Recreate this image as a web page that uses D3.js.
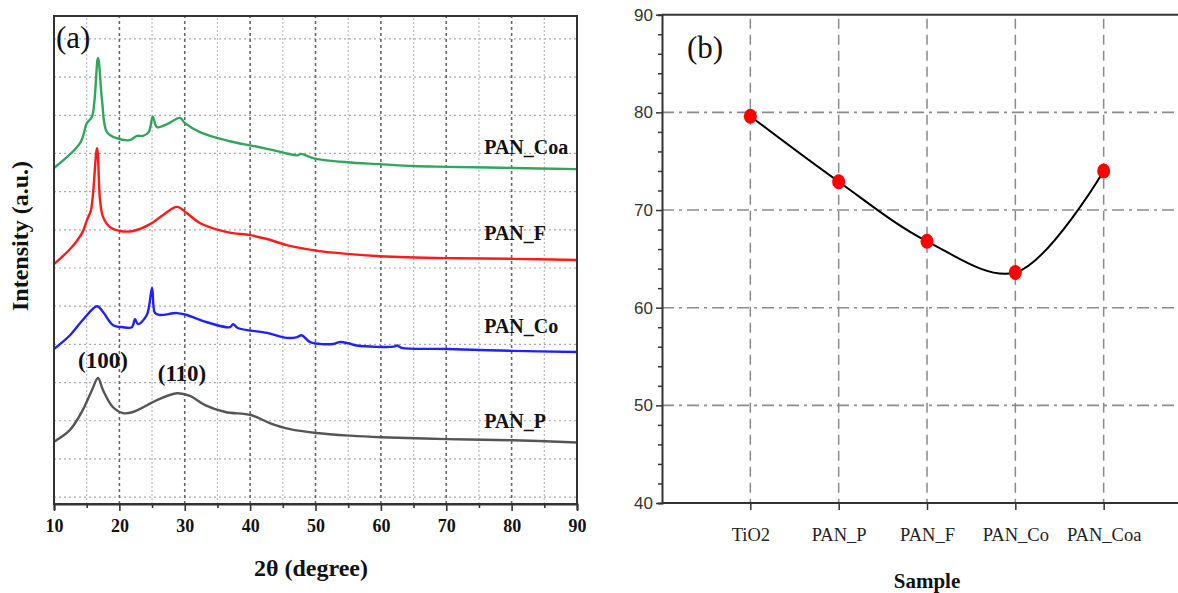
<!DOCTYPE html>
<html>
<head>
<meta charset="utf-8">
<script src="https://cdn.jsdelivr.net/npm/d3@7"></script>
<style>
  body { margin: 0; background: #fff; }
  svg { display: block; }
</style>
</head>
<body>
<div id="chart"></div>
<script>
// ---- panel (a): XRD patterns, [2theta, intensity (grid units)] ----
const panCoa = [[10,8.62],[13.98,9.27],[15.05,9.80],[15.81,9.96],[16.73,11.50],[17.34,10.40],[18.1,9.56],[19.6,9.40],[21.6,9.35],[22.7,9.46],[23.6,9.46],[24.5,9.56],[25.1,9.96],[25.75,9.69],[27.3,9.77],[29.3,9.93],[30.0,9.80],[32.3,9.56],[37.4,9.30],[40.4,9.20],[42.6,9.12],[45.6,9.00],[47.2,8.95],[47.8,8.99],[49.6,8.88],[54.8,8.77],[59.9,8.72],[64.9,8.67],[70.1,8.65],[80.2,8.62],[90,8.59]];
const panF = [[10,6.10],[12.75,6.55],[14.3,6.92],[15.05,7.26],[15.66,7.52],[16.58,9.14],[17.04,7.78],[17.5,7.34],[18.57,7.07],[20.1,6.97],[22.1,6.97],[24.7,7.15],[26.7,7.39],[28.8,7.60],[30.3,7.44],[32.3,7.18],[36.5,6.94],[40.0,6.86],[42.6,6.76],[45.6,6.60],[49.6,6.47],[54.8,6.37],[59.9,6.31],[70.1,6.26],[80.2,6.24],[90,6.21]];
const panCo = [[10,3.88],[12.45,4.24],[14.4,4.64],[16.58,5.00],[17.5,4.85],[19.0,4.51],[20.55,4.45],[21.9,4.45],[22.4,4.66],[22.85,4.53],[24.2,4.77],[25.0,5.48],[25.45,4.82],[26.2,4.77],[28.8,4.82],[30.3,4.77],[33.4,4.58],[36.9,4.45],[37.4,4.53],[38.1,4.43],[42.6,4.30],[45.6,4.17],[47.2,4.19],[47.9,4.24],[49.2,4.06],[52.7,4.01],[53.7,4.06],[55.0,4.03],[56.3,3.97],[62.0,3.94],[62.5,3.97],[63.2,3.91],[70.1,3.88],[80.2,3.83],[90,3.80]];
const panP = [[10,1.45],[12.45,1.76],[14.4,2.28],[15.8,2.80],[16.73,3.12],[17.5,2.80],[19.0,2.36],[20.55,2.20],[22.1,2.23],[25.75,2.54],[28.8,2.72],[30.8,2.65],[33.1,2.41],[36.2,2.23],[40.1,2.15],[43.0,1.94],[46.1,1.78],[50.1,1.68],[55.3,1.61],[60.0,1.57],[70.1,1.52],[80.2,1.49],[90,1.43]];
const seriesNames = ["PAN_Coa", "PAN_F", "PAN_Co", "PAN_P"];
const seriesColors = ["#2fa65c", "#ff1a1a", "#1f1fff", "#555555"];
const xTicksA = [10, 20, 30, 40, 50, 60, 70, 80, 90];

// ---- panel (b) ----
const samples = ["TiO2", "PAN_P", "PAN_F", "PAN_Co", "PAN_Coa"];
const sampleValues = [79.6, 72.9, 66.8, 63.6, 74.0];
const yTicksB = [40, 50, 60, 70, 80, 90];

const W = 1178, H = 593;
const svg = d3.select("#chart").append("svg")
    .attr("width", W).attr("height", H);

const serif = "'Liberation Serif', 'Times New Roman', serif";

// ===================== panel (a) =====================
const xA = d3.scaleLinear().domain([10, 90]).range([54, 577]);
const yA = d3.scaleLinear().domain([-0.18, 12.6]).range([504, 16]);

const gA = svg.append("g");

// grid
gA.append("g").selectAll("line")
  .data(d3.range(0, 13))
  .join("line")
    .attr("x1", xA(10)).attr("x2", xA(90))
    .attr("y1", d => yA(d)).attr("y2", d => yA(d))
    .attr("stroke", "#aaa").attr("stroke-width", 1.2)
    .attr("stroke-dasharray", "2,3");
gA.append("g").selectAll("line")
  .data(d3.range(15, 90, 5))
  .join("line")
    .attr("x1", d => xA(d)).attr("x2", d => xA(d))
    .attr("y1", yA.range()[0]).attr("y2", yA.range()[1])
    .attr("stroke", d => d % 10 === 0 ? "#666" : "#bbb")
    .attr("stroke-width", d => d % 10 === 0 ? 1.6 : 1.2)
    .attr("stroke-dasharray", d => d % 10 === 0 ? "3,3" : "2,2");

// curves
const lineA = d3.line()
    .x(d => xA(d[0])).y(d => yA(d[1]))
    .curve(d3.curveCatmullRom.alpha(0.5));
[panCoa, panF, panCo, panP].forEach((s, i) => {
  gA.append("path")
    .datum(s)
    .attr("d", lineA)
    .attr("fill", "none")
    .attr("stroke", seriesColors[i])
    .attr("stroke-width", 2.4)
    .attr("stroke-linejoin", "round");
});

// frame
gA.append("rect")
  .attr("x", xA(10)).attr("y", yA.range()[1])
  .attr("width", xA(90) - xA(10)).attr("height", yA.range()[0] - yA.range()[1])
  .attr("fill", "none").attr("stroke", "#333").attr("stroke-width", 2);

// x axis
const axA = gA.append("g")
  .attr("transform", `translate(0,${yA.range()[0]})`)
  .call(d3.axisBottom(xA).tickValues(d3.range(10, 91, 5)).tickSize(6)
        .tickFormat(d => xTicksA.includes(d) ? d : ""));
axA.select(".domain").attr("stroke", "#333").attr("stroke-width", 2);
axA.selectAll(".tick line").attr("stroke", "#333").attr("stroke-width", 1.6)
  .attr("y2", d => d % 10 === 0 ? 7 : 4);
axA.selectAll("text")
  .attr("font-family", serif).attr("font-weight", "bold")
  .attr("font-size", 18).attr("fill", "#111").attr("dy", "1.05em");

// labels
gA.append("text").attr("x", 311).attr("y", 576)
  .attr("text-anchor", "middle").attr("font-family", serif)
  .attr("font-weight", "bold").attr("font-size", 24).attr("fill", "#111")
  .text("2θ (degree)");
gA.append("text")
  .attr("transform", "translate(28,236) rotate(-90)")
  .attr("text-anchor", "middle").attr("font-family", serif)
  .attr("font-weight", "bold").attr("font-size", 24).attr("fill", "#111")
  .text("Intensity (a.u.)");
gA.append("text").attr("x", 56).attr("y", 48)
  .attr("font-family", serif).attr("font-size", 31).attr("fill", "#111")
  .text("(a)");

const labelY = [8.99, 6.73, 4.30, 1.81];
seriesNames.forEach((n, i) => {
  gA.append("text").attr("x", xA(75.8)).attr("y", yA(labelY[i]))
    .attr("font-family", serif).attr("font-weight", "bold")
    .attr("font-size", 20).attr("fill", "#111").text(n);
});
gA.append("text").attr("x", 103).attr("y", 368)
  .attr("text-anchor", "middle").attr("font-family", serif)
  .attr("font-weight", "bold").attr("font-size", 23).attr("fill", "#111").text("(100)");
gA.append("text").attr("x", 182).attr("y", 381)
  .attr("text-anchor", "middle").attr("font-family", serif)
  .attr("font-weight", "bold").attr("font-size", 23).attr("fill", "#111").text("(110)");

// ===================== panel (b) =====================
const xB = d3.scaleLinear().domain([0, 6]).range([662, 1192]);
const yB = d3.scaleLinear().domain([40, 90]).range([503, 14.7]);
const gB = svg.append("g");

// grid
gB.append("g").selectAll("line")
  .data([50, 60, 70, 80])
  .join("line")
    .attr("x1", xB(0)).attr("x2", W)
    .attr("y1", d => yB(d)).attr("y2", d => yB(d))
    .attr("stroke", "#8a8a8a").attr("stroke-width", 1.6)
    .attr("stroke-dasharray", "12,5,3,5");
gB.append("g").selectAll("line")
  .data(samples)
  .join("line")
    .attr("x1", (d, i) => xB(i + 1)).attr("x2", (d, i) => xB(i + 1))
    .attr("y1", yB(90) + 4).attr("y2", yB(40))
    .attr("stroke", "#8a8a8a").attr("stroke-width", 1.5)
    .attr("stroke-dasharray", "10,6");

// axes
const ayB = gB.append("g")
  .attr("transform", `translate(${xB(0)},0)`)
  .call(d3.axisLeft(yB).tickValues(d3.range(40, 91, 2)).tickSize(4)
        .tickFormat(d => yTicksB.includes(d) ? d : ""));
ayB.select(".domain").attr("stroke", "#333").attr("stroke-width", 2);
ayB.selectAll(".tick line").attr("stroke", "#333").attr("stroke-width", 1.5)
  .attr("x2", d => yTicksB.includes(d) ? -6 : -4);
ayB.selectAll("text")
  .attr("font-family", "'Liberation Sans Narrow', 'Liberation Sans', Arial, sans-serif")
  .attr("font-size", 17).attr("fill", "#333").attr("x", -9);

const axB = gB.append("g")
  .attr("transform", `translate(0,${yB(40)})`)
  .call(d3.axisBottom(xB).tickValues([1, 2, 3, 4, 5]).tickSize(7)
        .tickFormat(d => samples[d - 1]));
axB.select(".domain").attr("stroke", "#333").attr("stroke-width", 2.2)
  .attr("d", `M${xB(0)},0H${W}`);
axB.selectAll(".tick line").attr("stroke", "#333").attr("stroke-width", 1.5);
axB.selectAll("text")
  .attr("font-family", serif).attr("font-size", 18.5).attr("fill", "#222")
  .attr("dy", "1.5em");

gB.append("line")
  .attr("x1", xB(0)).attr("x2", W)
  .attr("y1", yB(90)).attr("y2", yB(90))
  .attr("stroke", "#333").attr("stroke-width", 2);

// curve + points
const lineB = d3.line()
    .x((d, i) => xB(i + 1)).y(d => yB(d))
    .curve(d3.curveCatmullRom.alpha(0.5));
gB.append("path").datum(sampleValues)
  .attr("d", lineB).attr("fill", "none")
  .attr("stroke", "#000").attr("stroke-width", 2);
gB.selectAll("ellipse").data(sampleValues).join("ellipse")
  .attr("cx", (d, i) => xB(i + 1)).attr("cy", d => yB(d))
  .attr("rx", 6.5).attr("ry", 7.5).attr("fill", "#ff0000");

gB.append("text").attr("x", 687).attr("y", 58)
  .attr("font-family", serif).attr("font-size", 31).attr("fill", "#111")
  .text("(b)");
gB.append("text").attr("x", xB(3)).attr("y", 588)
  .attr("text-anchor", "middle").attr("font-family", serif)
  .attr("font-weight", "bold").attr("font-size", 21).attr("fill", "#111")
  .text("Sample");
</script>
</body>
</html>
